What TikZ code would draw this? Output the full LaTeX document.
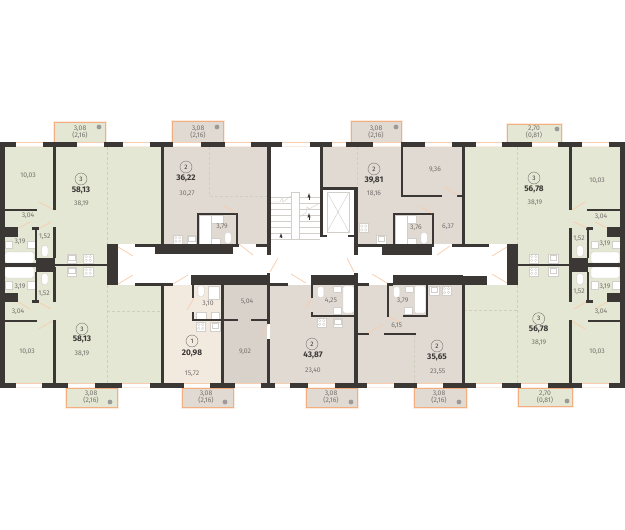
\documentclass[tikz,border=0pt]{standalone}
\usepackage{fontspec}
\setmainfont{Fira Sans}
\definecolor{wallc}{HTML}{3A3735}
\definecolor{grn}{HTML}{E4E7D3}
\definecolor{brn}{HTML}{E1DAD3}
\definecolor{crm}{HTML}{F2E9DF}
\definecolor{drk}{HTML}{D9D2CB}
\definecolor{peach}{HTML}{F8CDAE}
\definecolor{pale}{HTML}{FDEBDF}
\definecolor{orng}{HTML}{F3AE80}
\definecolor{txtc}{HTML}{75716D}
\definecolor{boldc}{HTML}{3A3735}
\definecolor{fixc}{HTML}{D2CEC9}
\definecolor{dashc}{HTML}{CFCFC0}
\definecolor{dotc}{HTML}{9C9A98}
\tikzset{
 lab/.style={font=\fontsize{6.8}{7}\selectfont,text=txtc,inner sep=0pt},
 areab/.style={font=\fontsize{8.2}{9}\bfseries\selectfont,text=boldc,inner sep=0pt},
 cnum/.style={draw=txtc,line width=.4pt,circle,minimum size=12pt,inner sep=0pt,font=\fontsize{6.5}{7}\selectfont,text=boldc},
 fix/.style={draw=fixc,fill=white,line width=.4pt},
 doorm/.style={draw=peach,line width=.7pt},
 dsh/.style={draw=dashc,line width=.5pt,densely dashed},
 stairl/.style={draw=fixc,line width=.4pt}
}
\newcommand{\W}[4]{\fill[wallc] (#1,#2) rectangle (#3,#4);}
\newcommand{\Rm}[5]{\fill[#1] (#2,#3) rectangle (#4,#5);}
\newcommand{\Wn}[3]{\fill[white] (#1,#2) rectangle (#3,#2+5);\draw[peach,line width=1.2pt] (#1,#2+.8)--(#3,#2+.8);\draw[pale,line width=.7pt] (#1,#2+4.6)--(#3,#2+4.6);}
\newcommand{\Dr}[4]{\draw[doorm] (#1,#2)--(#3,#4);}
\newcommand{\Tx}[3]{\node[lab] at (#1,#2) {#3};}
\newcommand{\Tbd}[3]{\node[areab] at (#1,#2) {#3};}
\newcommand{\Cn}[3]{\node[cnum] at (#1,#2) {#3};}
\newcommand{\Bal}[8]{\fill[pale] (#1-1.5,#2-1.5) rectangle (#3+1.5,#4+1.5);\draw[#6,fill=#5,line width=.8pt] (#1,#2) rectangle (#3,#4);\fill[dotc] (#7,#8) circle[radius=2.4];}
\newcommand{\Fx}[4]{\draw[fix] (#1,#2) rectangle (#3,#4);}
\newcommand{\St}[2]{\draw[fix] (#1,#2) rectangle +(9.5,9);
 \foreach \a in {2.7,6.8}{\foreach \b in {2.6,6.4}{\draw[fixc,line width=.3pt] (#1+\a,#2+\b) circle[radius=1.3];}}}
\newcommand{\Sk}[2]{\draw[fix] (#1,#2) rectangle +(9.5,9);\draw[fixc,line width=.3pt] (#1+1.5,#2+1.5) rectangle +(6.5,5);}
\newcommand{\Tl}[2]{\draw[fix,rounded corners=2.5pt] (#1-3.2,#2-5.5) rectangle (#1+3.2,#2+5.5);}
\begin{document}
\begin{tikzpicture}[x=1pt,y=-1pt]
\useasboundingbox (0,0) rectangle (625,530);
\fill[white] (0,0) rectangle (625,530);
% rooms
\Rm{grn}{5}{147}{161}{244}\Rm{grn}{5}{244}{107}{264}
\Rm{grn}{5}{264}{107}{285}\Rm{grn}{5}{285}{161}{383}
\Rm{grn}{464}{147}{620}{244}\Rm{grn}{518}{244}{620}{264}
\Rm{grn}{518}{264}{620}{285}\Rm{grn}{464}{285}{620}{383}
\Rm{brn}{163}{147}{267}{244}
\Rm{brn}{322}{147}{462.5}{244}
\fill[white] (320,187) rectangle (357,247);
\Rm{crm}{163}{285}{221}{383}
\Rm{drk}{224}{285}{267}{383}
\Rm{brn}{270}{285}{354.5}{383}
\Rm{brn}{357.5}{285}{462.5}{383}
% dashed
\draw[dsh] (107,147)--(107,244);
\draw[dsh] (107,285)--(107,383);
\draw[dsh] (107,311)--(161,311);
\draw[dsh] (517.5,147)--(517.5,244);
\draw[dsh] (517.5,285)--(517.5,383);
\draw[dsh] (464,310.5)--(517.5,310.5);
\draw[dsh] (209,147)--(209,196)--(267,196);
\draw[dsh] (357,147)--(357,187);
\draw[dsh] (414.5,335)--(414.5,383);
% balconies
\Bal{54}{122}{105}{142}{grn}{orng}{99}{127}
\Bal{172}{121.5}{223}{142}{brn}{orng}{217}{127}
\Bal{351}{121.5}{401}{142}{brn}{orng}{396}{127}
\Bal{507}{124}{561}{142}{grn}{orng}{557}{129}
\Bal{66}{388}{117}{407.5}{grn}{orng}{110}{402}
\Bal{182}{388}{233}{407.5}{brn}{orng}{225}{402}
\Bal{306}{388}{357}{407.5}{brn}{orng}{351}{402}
\Bal{414.5}{388}{466}{407.5}{brn}{orng}{459}{402}
\Bal{518}{388}{572}{406}{grn}{orng}{567}{401}
% fixtures
\draw[fix,rounded corners=2pt] (5,252) rectangle (34,263);
\draw[fix,rounded corners=2pt] (5,267) rectangle (34,278);
\draw[fix,rounded corners=2pt] (591,252) rectangle (619.5,263);
\draw[fix,rounded corners=2pt] (591,267) rectangle (619.5,278);
\Fx{27}{241}{35}{248}\Fx{5}{241}{12.5}{248}\Fx{27}{281}{35}{289}\Fx{5}{281}{12.5}{289}
\Fx{591}{241}{598.5}{248}\Fx{612}{241}{620}{248}\Fx{591}{281}{598.5}{289}\Fx{612}{281}{620}{289}
\Tl{44.8}{251}\Tl{44.8}{279}\Tl{580}{251}\Tl{580}{279}
\Sk{67}{254}\St{83.5}{254}\Sk{67}{267}\St{83.5}{267}
\St{529}{254}\Sk{548.5}{254}\St{529}{267}\Sk{548.5}{267}
% 36,22
\Fx{199}{215}{211.5}{244}\Fx{211.5}{215}{223}{223}\Fx{211.5}{238}{220.5}{244}\Tl{228}{238}
\St{173}{235}\Sk{187}{235}
% 39,81
\Fx{395}{215}{407.5}{244}\Fx{407.5}{215}{416.5}{223}\Fx{407.5}{238}{416.5}{244}\Tl{424}{238}
\St{359}{223.5}\Sk{376.5}{235}
% 20,98
\Tl{201}{291}\Fx{208}{286}{219}{299}\Fx{196}{312}{206}{319.5}\Fx{211}{312}{219}{319.5}
\St{196}{322}\Sk{210.5}{322}
% 4,25
\Tl{320.7}{292}\Fx{333}{286}{341}{292}\draw[fix,rounded corners=2pt] (343,286) rectangle (354,313);
\Fx{333}{307}{341.5}{314}\St{317}{318}\Sk{333}{318}
% 3,79 lower
\Tl{396.7}{292}\Fx{405}{286}{412.7}{292}\draw[fix,rounded corners=2pt] (414.3,286) rectangle (425.7,313);
\Fx{404}{307}{412}{314}\Sk{429.3}{286}\St{441.7}{286}
% stairs
\foreach \yy in {197,203,209,215,221,227,233,239}{
 \draw[stairl] (270.5,\yy)--(290.7,\yy);
 \draw[stairl] (299.3,\yy)--(320,\yy);}
\draw[stairl] (290.7,192) rectangle (299.3,239);
\draw[stairl] (270.5,202)--(280,202)--(282,198)--(283,202)--(290.7,196);
\draw[stairl] (299.3,217)--(306,213)--(307,207)--(309,209)--(320,203);
\draw[wallc,line width=.5pt,-latex] (309,200)--(309,193);
\draw[wallc,line width=.5pt,-latex] (309,220)--(309,213);
\draw[wallc,line width=.5pt,-latex] (281,238)--(281,233);
% shaft
\draw[stairl] (327,192) rectangle (349,232);
\draw[stairl] (327,192)--(349,232);
\draw[stairl] (349,192)--(327,232);
% windows top
\Wn{16}{142}{43}\Wn{77}{142}{104}\Wn{123}{142}{150}
\Wn{173}{142}{200.5}\Wn{224.5}{142}{251}\Wn{282}{142}{310}
\Wn{331.5}{142}{346}\Wn{373}{142}{401}\Wn{425}{142}{451.5}
\Wn{476}{142}{502}\Wn{532}{142}{558}\Wn{582}{142}{609}
% windows bottom
\Wn{16}{383}{42}\Wn{68}{383}{95}\Wn{122}{383}{150}
\Wn{184}{383}{210}\Wn{234.5}{383}{261}\Wn{275}{383}{290}\Wn{308}{383}{335}
\Wn{367}{383}{394}\Wn{416.5}{383}{443}
\Wn{476}{383}{502}\Wn{521}{383}{548}\Wn{582}{383}{609}
% walls: top
\W{0}{142}{16}{147}\W{43}{142}{77}{147}\W{104}{142}{123}{147}\W{150}{142}{173}{147}
\W{200.5}{142}{224.5}{147}\W{251}{142}{282}{147}\W{310}{142}{331.5}{147}
\W{346}{142}{373}{147}\W{401}{142}{425}{147}\W{451.5}{142}{476}{147}
\W{502}{142}{532}{147}\W{558}{142}{582}{147}\W{609}{142}{625}{147}
% walls: bottom
\W{0}{383}{16}{388}\W{42}{383}{68}{388}\W{95}{383}{122}{388}\W{150}{383}{184}{388}
\W{210}{383}{234.5}{388}\W{261}{383}{275}{388}\W{290}{383}{308}{388}\W{335}{383}{367}{388}
\W{394}{383}{416.5}{388}\W{443}{383}{476}{388}\W{502}{383}{521}{388}\W{548}{383}{582}{388}\W{609}{383}{625}{388}
% outer
\W{0}{142}{5}{388}\W{620}{142}{625}{388}
% left flat top
\W{52.5}{147}{56}{210}\W{5}{208.5}{37}{210.5}\W{5}{227}{18}{237}\W{32}{227}{39}{229.5}\W{35}{229}{37}{260}
\W{5}{263}{36}{267}\W{35.7}{258}{55}{272}\W{52.5}{227}{56}{258}\W{107}{244}{118}{285}\W{55}{264}{107}{266}
\W{135}{244}{161}{247}\W{161}{147}{163.5}{247}
% left flat bottom
\W{35}{272}{37}{300}\W{32}{300}{39}{302.5}\W{5}{293}{18}{302}\W{52.5}{267}{56}{302}\W{52.5}{320}{56}{383}\W{5}{320}{37}{322}
\W{135}{283}{163.5}{285.5}\W{160.5}{283}{163.5}{383}
% 36,22
\W{155}{244}{233}{254}\W{233}{244}{239}{247}\W{256}{244}{267}{247}\W{267}{147}{270.5}{255}
\W{196.7}{213}{238.3}{215}\W{196.7}{213}{199}{244}\W{236.3}{213}{238.3}{247}
% 39,81
\W{320}{147}{322.7}{189}\W{320}{187}{357.5}{190}\W{320}{187}{322.7}{237}\W{320}{235}{327}{237}\W{348}{235}{357}{237}
\W{354.3}{187}{357.5}{255}\W{357}{244}{382}{247}\W{382}{244}{432}{255}\W{451.7}{244}{462.5}{247}
\W{392.7}{213}{434}{215}\W{392.7}{213}{395}{244}\W{432}{213}{434}{247}
\W{401.3}{147}{403.3}{196.7}\W{401.3}{194.5}{442}{196.7}\W{457}{194.5}{462.5}{196.7}
\W{462.3}{147}{464.5}{247}
% right flat top
\W{569}{147}{572.3}{210}\W{587}{208.5}{620}{210.5}\W{607}{227}{620}{237}\W{586}{227}{592.7}{229.5}\W{587}{229}{589}{258}
\W{569}{227.5}{572.3}{258}\W{569}{258}{588}{272}\W{588}{263}{620}{267}\W{507}{244}{518}{285}\W{518}{264}{569}{266}\W{460}{244}{489}{247}
% right flat bottom
\W{569}{267}{572.3}{302}\W{569}{320}{572.3}{383}\W{587}{272}{589}{300}\W{586}{300}{592.7}{302.5}\W{607}{293}{620}{302}\W{587.5}{319.5}{620}{322}
\W{460}{276}{487}{285}\W{462.3}{283}{464.5}{383}
% lower middle
\W{160}{283}{173.3}{285.5}\W{191}{275}{270}{285}\W{267}{272.7}{270.3}{324}\W{267}{339}{270.3}{383}\W{270}{283}{288}{285.5}
\W{220.7}{285}{224}{383}\W{192.3}{285}{194.3}{298}\W{192.3}{312}{194.3}{321}\W{192}{319.3}{238}{321.3}\W{251.3}{319.3}{267}{321.3}
\W{311}{275}{357}{285}\W{354.3}{272.7}{357.7}{383}\W{357}{283}{369}{285.5}\W{393}{275}{463}{285}
\W{386.7}{283}{393}{285.5}\W{386.7}{283}{389}{317}\W{403}{315}{428.3}{317}\W{426}{285}{428.3}{317}
\W{357}{332.7}{369}{335}\W{384}{333}{415.7}{335}
\W{310.7}{285}{312.7}{298}\W{310.7}{312}{312.7}{317}\W{310.7}{315}{355}{317}
% doors
\Dr{39}{202}{52}{209}\Dr{40}{228}{51}{222}\Dr{19}{228}{30}{222}\Dr{118}{247}{133}{256}
\Dr{118}{284}{133}{275}\Dr{18}{302}{30}{309}\Dr{40}{303}{51}{309}\Dr{39}{329}{52}{321}
\Dr{224}{206}{236}{213}\Dr{239}{244}{253}{255}\Dr{270}{272}{278}{258}
\Dr{347}{258}{354}{272}\Dr{372}{274}{387}{283}\Dr{444}{187}{458}{195}\Dr{420}{207}{432}{213}\Dr{437}{255}{450}{246}
\Dr{173}{284}{188}{275}\Dr{187}{310}{194}{298}\Dr{260}{337}{268}{324}\Dr{291}{274}{306}{283}\Dr{305}{309}{312}{298}
\Dr{368}{333}{382}{325}\Dr{389}{317}{402}{323}
\Dr{572}{210}{585}{202}\Dr{574}{222}{587}{228}\Dr{595}{222}{607}{228}\Dr{492}{256}{507}{247}
\Dr{492}{274}{507}{283}\Dr{574}{309}{586}{302}\Dr{595}{309}{607}{302}\Dr{572}{321}{585}{329}
% balcony labels
\Tx{80}{128.5}{3,08}\Tx{80}{135}{(2,16)}
\Tx{198}{128.5}{3,08}\Tx{198}{135}{(2,16)}
\Tx{376}{128.5}{3,08}\Tx{376}{135}{(2,16)}
\Tx{534}{129}{2,70}\Tx{534}{135}{(0,81)}
\Tx{91}{394}{3,08}\Tx{91}{400}{(2,16)}
\Tx{206}{394}{3,08}\Tx{206}{400}{(2,16)}
\Tx{331}{394}{3,08}\Tx{331}{400}{(2,16)}
\Tx{439}{394}{3,08}\Tx{439}{400}{(2,16)}
\Tx{545}{394}{2,70}\Tx{545}{400}{(0,81)}
% room labels
\Tx{28}{176}{10,03}\Cn{81}{179}{3}\Tbd{81}{190}{58,13}\Tx{81.5}{204}{38,19}\Tx{28}{216}{3,04}\Tx{44.7}{237}{1,52}\Tx{20}{242}{3,19}
\Tx{20}{287}{3,19}\Tx{18}{312}{3,04}\Tx{44}{294}{1,52}\Tx{27}{352}{10,03}\Cn{82}{329}{3}\Tbd{82}{339}{58,13}\Tx{82}{354}{38,19}
\Cn{186}{167}{2}\Tbd{186}{178}{36,22}\Tx{187}{194}{30,27}\Tx{222}{227}{3,79}
\Cn{374}{169}{2}\Tbd{374}{180}{39,81}\Tx{374}{194}{18,16}\Tx{435}{170}{9,36}\Tx{416}{228}{3,76}\Tx{448}{227}{6,37}
\Cn{534}{178}{3}\Tbd{534}{189}{56,78}\Tx{535}{203}{38,19}\Tx{597}{181}{10,03}\Tx{601}{217}{3,04}\Tx{579}{239}{1,52}\Tx{605}{244}{3,19}
\Cn{538.7}{318.7}{3}\Tbd{538.7}{329}{56,78}\Tx{539}{343}{38,19}\Tx{597}{352}{10,03}\Tx{601}{312}{3,04}\Tx{579}{292}{1,52}\Tx{605}{287}{3,19}
\Tx{208}{304}{3,10}\Tx{247}{302}{5,04}\Cn{192}{341}{1}\Tbd{192}{353}{20,98}\Tx{192}{374}{15,72}\Tx{245}{352}{9,02}
\Cn{312}{344}{2}\Tbd{313}{355}{43,87}\Tx{313}{371}{23,40}\Tx{331}{301}{4,25}
\Cn{437}{346}{2}\Tbd{437}{357}{35,65}\Tx{437.7}{372}{23,55}\Tx{396.7}{326}{6,15}\Tx{402.7}{301}{3,79}
\end{tikzpicture}
\end{document}
